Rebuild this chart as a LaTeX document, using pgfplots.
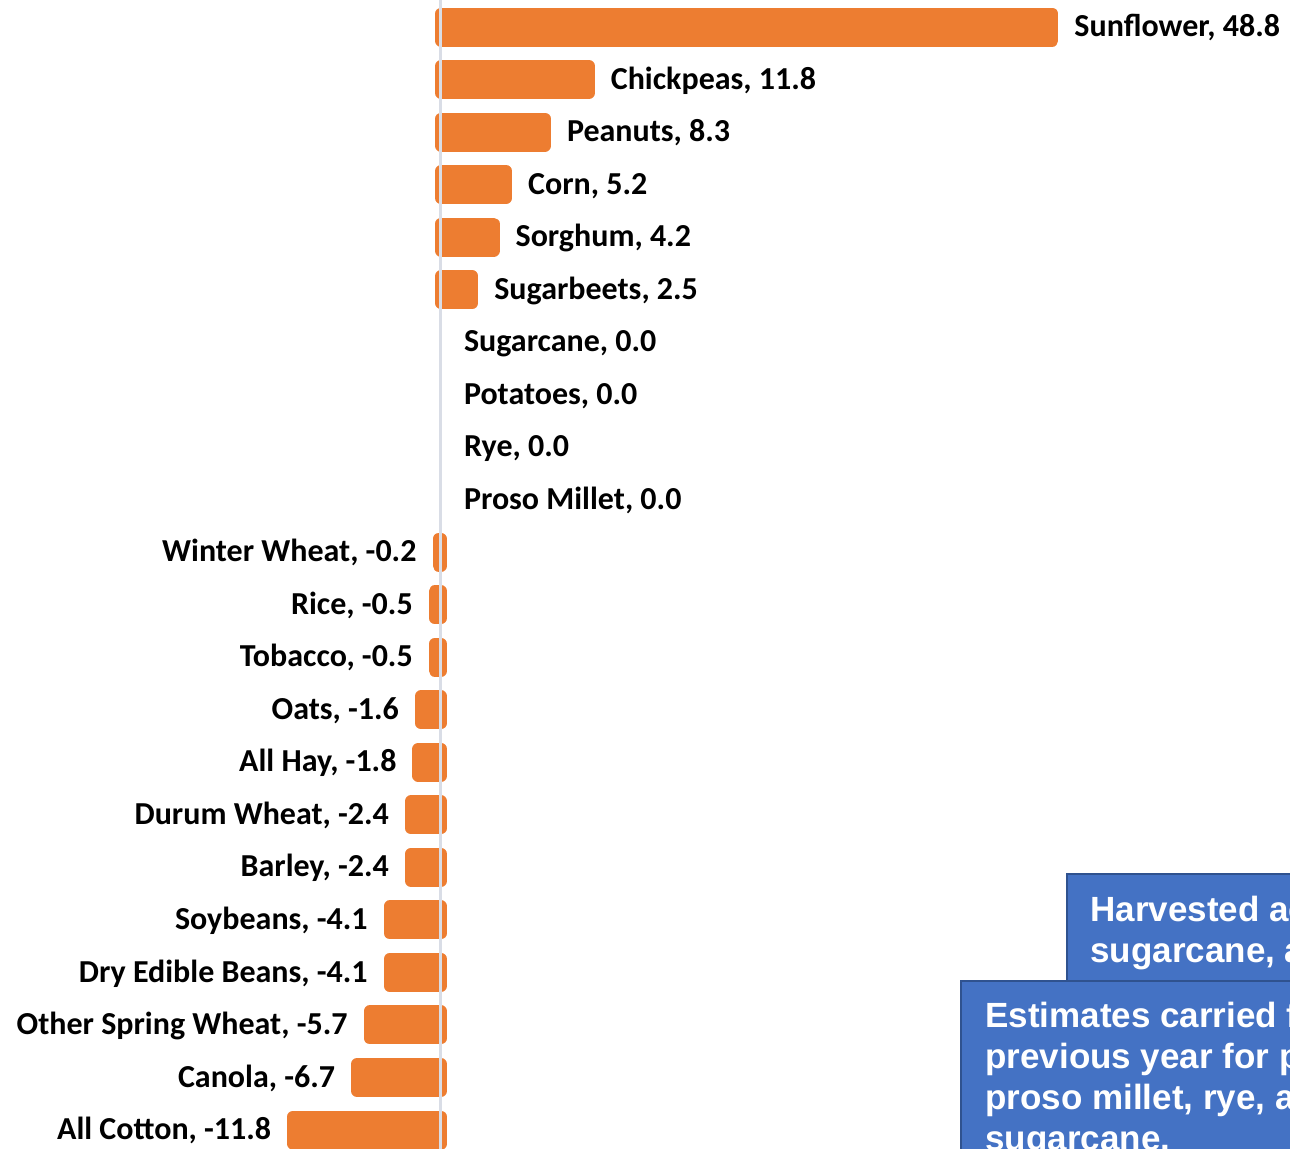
\documentclass[border=0pt]{standalone}
\usepackage{pgfplots}
\pgfplotsset{compat=1.18}
\usepackage{fontspec}
\setmainfont{Carlito}
\newfontfamily\arialfont{Liberation Sans}
\definecolor{barorange}{HTML}{ED7D31}
\definecolor{boxblue}{HTML}{4472C4}
\definecolor{boxedge}{HTML}{2F528F}
\definecolor{axisgray}{HTML}{D9DDE6}
\begin{document}
\begin{tikzpicture}
\useasboundingbox (0,0) rectangle (645pt,574pt);
\clip (0,0) rectangle (645pt,574pt);
\begin{axis}[
  scale only axis, width=645pt, height=574pt,
  xmin=-35.196, xmax=67.757,
  ymin=-0.514, ymax=21.343, y dir=reverse,
  axis lines=none, xtick=\empty, ytick=\empty,
  xbar, bar width=13.5pt, bar shift=0pt,
  point meta=explicit symbolic,
  nodes near coords,
  every node near coord/.append style={font=\bfseries\fontsize{16}{18}\selectfont, text=black, inner sep=0pt},
  clip=false,
]
% positive values
\addplot[xbar, bar shift=0pt, fill=barorange, draw=barorange, line width=6pt, line join=round,
  every node near coord/.append style={anchor=base west, xshift=8pt, yshift=-4.8pt}]
coordinates {
  (48.8,0) [Sunflower, 48.8]
  (11.8,1) [Chickpeas, 11.8]
  (8.3,2) [Peanuts, 8.3]
  (5.2,3) [Corn, 5.2]
  (4.2,4) [Sorghum, 4.2]
  (2.5,5) [Sugarbeets, 2.5]
};
% zero values
\addplot[xbar, bar shift=0pt, draw=none, fill=none,
  every node near coord/.append style={anchor=base west, xshift=11.3pt, yshift=-4.8pt}]
coordinates {
  (0.0,6) [Sugarcane, 0.0]
  (0.0,7) [Potatoes, 0.0]
  (0.0,8) [Rye, 0.0]
  (0.0,9) [Proso Millet, 0.0]
};
% negative values
\addplot[xbar, bar shift=0pt, fill=barorange, draw=barorange, line width=6pt, line join=round,
  every node near coord/.append style={anchor=base east, xshift=-8pt, yshift=-4.8pt}]
coordinates {
  (-0.2,10) [Winter Wheat, -0.2]
  (-0.5,11) [Rice, -0.5]
  (-0.5,12) [Tobacco, -0.5]
  (-1.6,13) [Oats, -1.6]
  (-1.8,14) [All Hay, -1.8]
  (-2.4,15) [Durum Wheat, -2.4]
  (-2.4,16) [Barley, -2.4]
  (-4.1,17) [Soybeans, -4.1]
  (-4.1,18) [Dry Edible Beans, -4.1]
  (-5.7,19) [Other Spring Wheat, -5.7]
  (-6.7,20) [Canola, -6.7]
  (-11.8,21) [All Cotton, -11.8]
};
\draw[axisgray, line width=1.2pt] (axis cs:-0.05,-0.6) -- (axis cs:-0.05,21.4);
\end{axis}
\begin{scope}[x=0.5pt, y=-0.5pt, shift={(0,574pt)}]
  \draw[fill=boxblue, draw=boxedge, line width=1.2pt] (1067,874) rectangle (1400,985);
  \draw[fill=boxblue, draw=boxedge, line width=1.2pt] (961,981) rectangle (1400,1300);
  \begin{scope}[every node/.style={anchor=base west, inner sep=0pt, text=white, font=\arialfont\bfseries\fontsize{17.5}{20.5}\selectfont}]
    \node at (1090,921) {Harvested acreage for};
    \node at (1090,962) {sugarcane, as planted};
    \node at (985,1027) {Estimates carried forward from};
    \node at (985,1068) {previous year for potatoes,};
    \node at (985,1109) {proso millet, rye, and};
    \node at (985,1150) {sugarcane.};
  \end{scope}
\end{scope}
\end{tikzpicture}
\end{document}
